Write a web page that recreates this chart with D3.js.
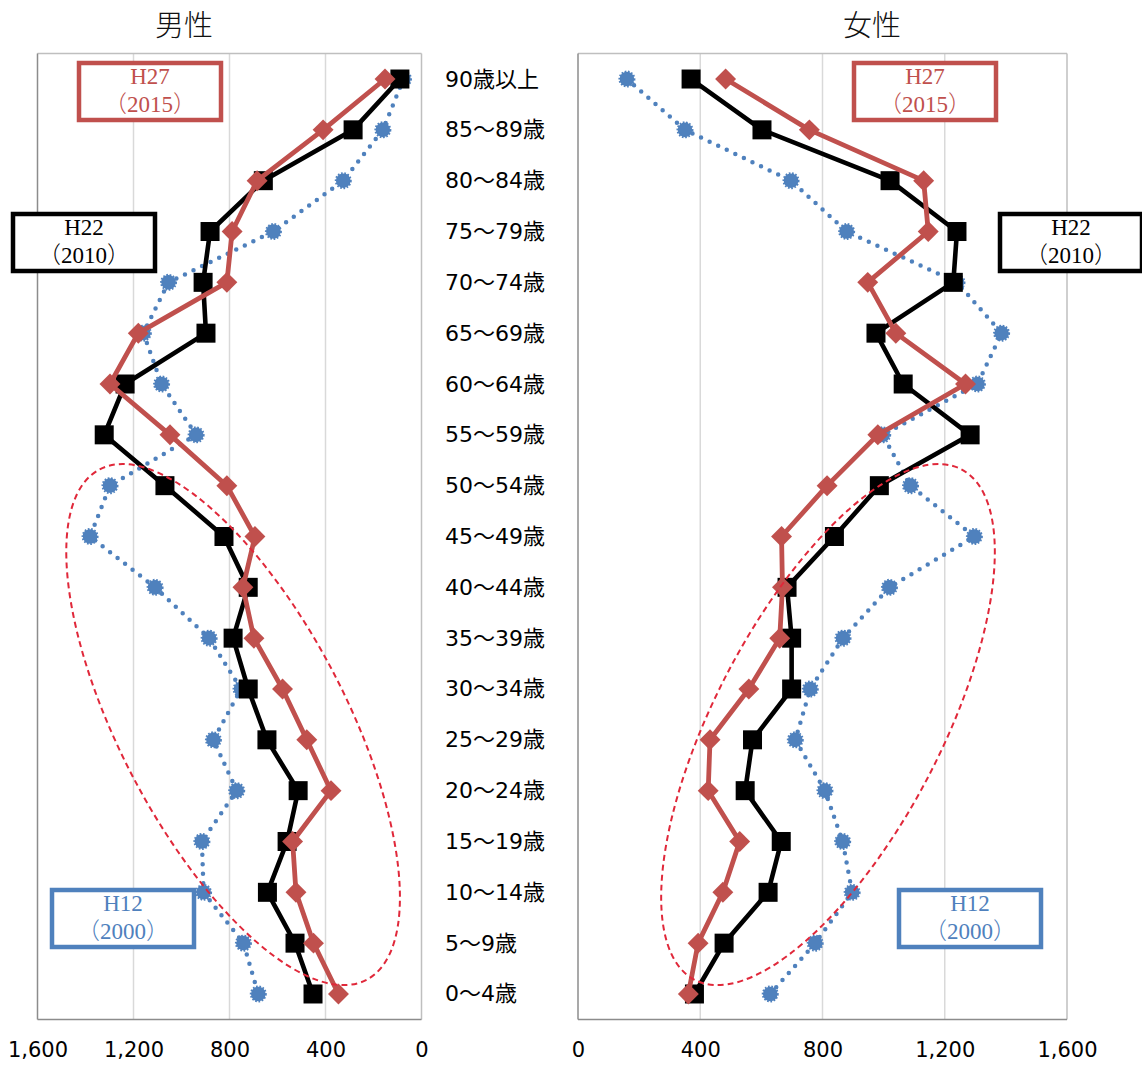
<!DOCTYPE html>
<html>
<head>
<meta charset="utf-8">
<script src="https://cdn.jsdelivr.net/npm/d3@7"></script>
<style>
  html, body { margin: 0; padding: 0; background: #ffffff; }
  svg { display: block; }
</style>
</head>
<body>
<svg id="chart" width="1142" height="1066"></svg>
<script>
// ---------------- data ----------------
const ages = ["90歳以上","85～89歳","80～84歳","75～79歳","70～74歳","65～69歳","60～64歳","55～59歳","50～54歳","45～49歳","40～44歳","35～39歳","30～34歳","25～29歳","20～24歳","15～19歳","10～14歳","5～9歳","0～4歳"];

const maleH12 = [75, 161, 326, 617, 1054, 1159, 1083, 939, 1298, 1381, 1110, 885, 752, 867, 770, 915, 908, 742, 680];
const maleH22 = [90, 285, 659, 881, 910, 898, 1235, 1322, 1069, 823, 722, 785, 722, 644, 514, 560, 642, 527, 452];
const maleH27 = [152, 410, 685, 789, 811, 1180, 1298, 1048, 811, 694, 744, 698, 579, 478, 377, 537, 523, 450, 346];

const femaleH12 = [160, 350, 697, 879, 1240, 1386, 1307, 997, 1088, 1297, 1019, 867, 760, 711, 808, 866, 897, 776, 629];
const femaleH22 = [370, 602, 1021, 1240, 1228, 975, 1064, 1283, 986, 839, 684, 699, 699, 571, 547, 665, 622, 478, 381];
const femaleH27 = [483, 757, 1131, 1146, 948, 1040, 1268, 981, 815, 666, 669, 660, 559, 432, 426, 529, 474, 393, 361];

const tickValues = [0, 400, 800, 1200, 1600];
const panelTitles = ["男性", "女性"];
const seriesNames = ["H12", "H22", "H27"];
const seriesYears = ["（2000）", "（2010）", "（2015）"];

// ---------------- styles ----------------
const colors = { H12: "#4F81BD", H22: "#000000", H27: "#C0504D" };

const svg = d3.select("#chart");

const plotTop = 53.6, plotBottom = 1019.4;
const y = d3.scaleBand().domain(ages).range([plotTop, plotBottom]);
const yc = d => y(d) + y.bandwidth() / 2;

const xL = d3.scaleLinear().domain([1600, 0]).range([37.5, 421.5]);
const xR = d3.scaleLinear().domain([0, 1600]).range([578, 1067]);

function drawPanel(x, data, title, titleX) {
  const g = svg.append("g");
  const [x0, x1] = x.range().slice().sort((a, b) => a - b);

  // gridlines
  g.selectAll("line.grid").data([400, 800, 1200]).join("line")
    .attr("x1", d => x(d)).attr("x2", d => x(d))
    .attr("y1", plotTop).attr("y2", plotBottom)
    .attr("stroke", "#d9d9d9").attr("stroke-width", 1.5);

  // frame
  g.append("line").attr("x1", x0).attr("x2", x1).attr("y1", plotTop).attr("y2", plotTop)
    .attr("stroke", "#bfbfbf").attr("stroke-width", 1.5);
  g.append("line").attr("x1", x1).attr("x2", x1).attr("y1", plotTop).attr("y2", plotBottom)
    .attr("stroke", "#bfbfbf").attr("stroke-width", 1.5);
  g.append("line").attr("x1", x0).attr("x2", x0).attr("y1", plotTop).attr("y2", plotBottom)
    .attr("stroke", "#8c8c8c").attr("stroke-width", 1.5);
  g.append("line").attr("x1", x0).attr("x2", x1).attr("y1", plotBottom).attr("y2", plotBottom)
    .attr("stroke", "#8c8c8c").attr("stroke-width", 1.5);

  // axis labels
  const axis = d3.axisBottom(x).tickValues(tickValues).tickFormat(d3.format(",")).tickSize(0).tickPadding(23);
  const ag = g.append("g").attr("transform", `translate(0,${plotBottom})`).call(axis);
  ag.select(".domain").remove();
  ag.selectAll("text")
    .attr("font-family", "'DejaVu Sans', 'Noto Sans CJK JP', sans-serif")
    .attr("font-size", 21).attr("fill", "#000");

  // title
  svg.append("text").attr("x", titleX).attr("y", 36)
    .attr("text-anchor", "middle")
    .attr("font-family", "'Noto Sans CJK JP', sans-serif")
    .attr("font-size", 29).attr("font-weight", 300).attr("fill", "#111")
    .text(title);

  const line = d3.line().x(d => x(d.v)).y(d => yc(d.a));
  const pts = arr => arr.map((v, i) => ({ a: ages[i], v }));

  // H12 dotted blue
  const p12 = pts(data.H12);
  g.append("path").attr("d", line(p12)).attr("fill", "none")
    .attr("stroke", colors.H12).attr("stroke-width", 4.5)
    .attr("stroke-linecap", "round").attr("stroke-dasharray", "0 9.5");
  g.selectAll("circle.h12").data(p12).join("circle")
    .attr("cx", d => x(d.v)).attr("cy", d => yc(d.a)).attr("r", 7.3)
    .attr("fill", colors.H12)
    .attr("stroke", colors.H12).attr("stroke-width", 2.4).attr("stroke-dasharray", "1.6 1.6");

  // H22 black squares
  const p22 = pts(data.H22);
  g.append("path").attr("d", line(p22)).attr("fill", "none")
    .attr("stroke", colors.H22).attr("stroke-width", 4.6).attr("stroke-linejoin", "round");
  g.selectAll("rect.h22").data(p22).join("rect")
    .attr("x", d => x(d.v) - 9.5).attr("y", d => yc(d.a) - 9.5)
    .attr("width", 19).attr("height", 19).attr("fill", colors.H22);

  // H27 red diamonds
  const p27 = pts(data.H27);
  g.append("path").attr("d", line(p27)).attr("fill", "none")
    .attr("stroke", colors.H27).attr("stroke-width", 4.8).attr("stroke-linejoin", "round");
  g.selectAll("rect.h27").data(p27).join("rect")
    .attr("x", -7.4).attr("y", -7.4).attr("width", 14.8).attr("height", 14.8)
    .attr("transform", d => `translate(${x(d.v)},${yc(d.a)}) rotate(45)`)
    .attr("fill", colors.H27);
}

drawPanel(xL, { H12: maleH12, H22: maleH22, H27: maleH27 }, panelTitles[0], 184);
drawPanel(xR, { H12: femaleH12, H22: femaleH22, H27: femaleH27 }, panelTitles[1], 872);

// age labels
svg.append("g").selectAll("text").data(ages).join("text")
  .attr("x", 445).attr("y", d => yc(d))
  .attr("dominant-baseline", "central")
  .attr("font-family", "'DejaVu Sans', 'Noto Sans CJK JP', sans-serif")
  .attr("font-size", 22).attr("fill", "#000")
  .text(d => d);

// dashed ellipses (annotation, centred in data space)
const ellipses = [
  { x: xL, v: 785, row: 12.7, angle: 62.4 },
  { x: xR, v: 818, row: 12.7, angle: -62.4 }
];
ellipses.forEach(e => {
  const cx = e.x(e.v);
  const cy = y.range()[0] + (e.row + 0.5) * y.step();
  svg.append("ellipse")
    .attr("cx", 0).attr("cy", 0).attr("rx", 288).attr("ry", 113)
    .attr("transform", `translate(${cx},${cy}) rotate(${e.angle})`)
    .attr("fill", "none").attr("stroke", "#E0283A").attr("stroke-width", 2)
    .attr("stroke-dasharray", "6 4");
});

// legend boxes (annotation)
const boxes = [
  { s: 2, x: 77, y: 61 }, { s: 1, x: 11, y: 212 }, { s: 0, x: 50, y: 888 },
  { s: 2, x: 852, y: 61 }, { s: 1, x: 998, y: 212 }, { s: 0, x: 897, y: 888 }
];
boxes.forEach(b => {
  const name = seriesNames[b.s];
  const g = svg.append("g").attr("transform", `translate(${b.x},${b.y})`);
  g.append("rect").attr("x", 2).attr("y", 2).attr("width", 142).attr("height", 57)
    .attr("fill", "#fff").attr("stroke", colors[name]).attr("stroke-width", 4.5);
  const t = g.append("text").attr("text-anchor", "middle")
    .attr("font-family", "'Liberation Serif', 'Noto Sans CJK JP', serif")
    .attr("font-size", 23).attr("fill", colors[name]);
  t.append("tspan").attr("x", 73).attr("y", 23).text(name);
  t.append("tspan").attr("x", 73).attr("y", 51).attr("font-weight", 300).text(seriesYears[b.s]);
});
</script>
</body>
</html>
